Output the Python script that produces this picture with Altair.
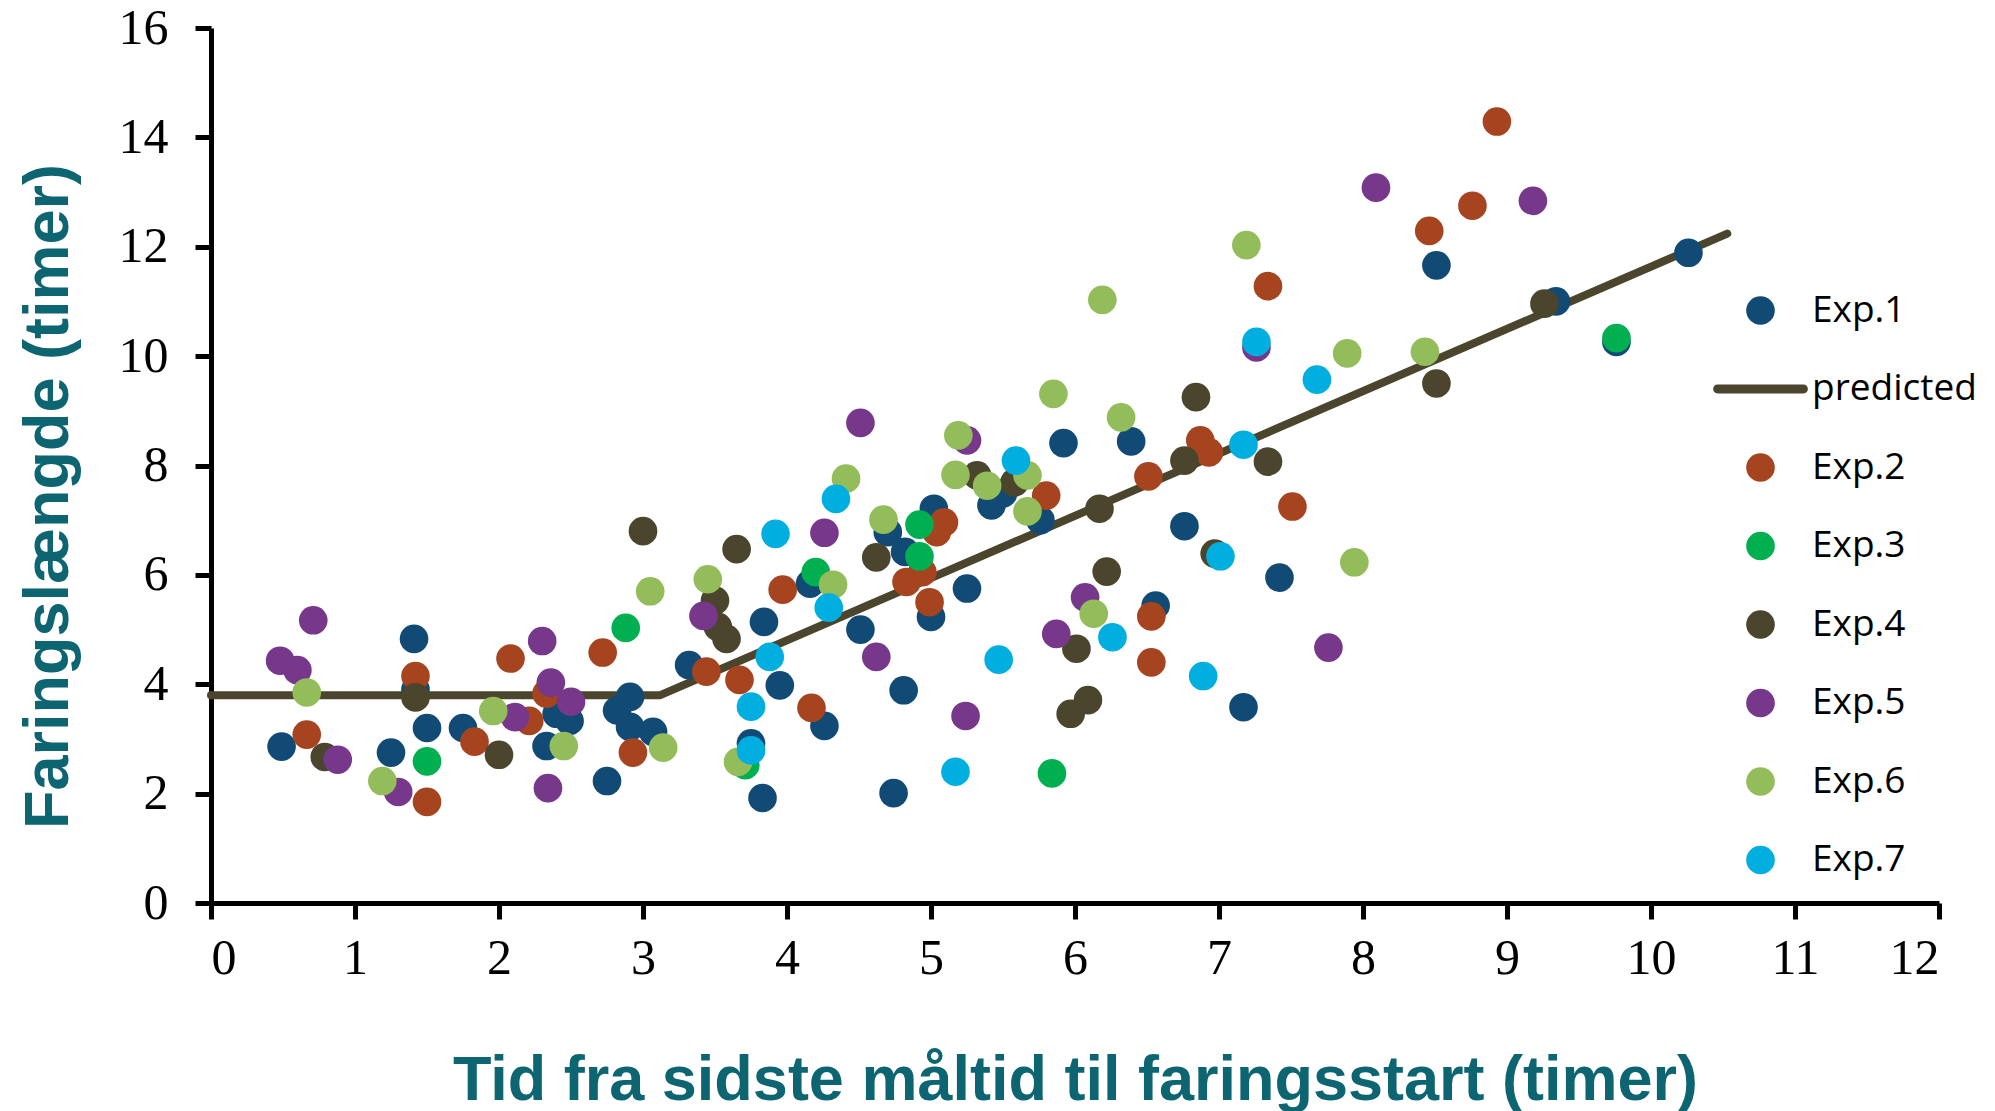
import altair as alt
import pandas as pd

# ---- data ----
exp1_x = [0.49, 1.25, 1.41, 1.42, 1.50, 1.75, 2.33, 2.40, 2.49, 2.75, 2.82, 2.91, 2.91, 3.07, 3.32,
          3.75, 3.83, 3.84, 3.95, 4.16, 4.26, 4.51, 4.70, 4.74, 4.81, 4.82, 5.00, 5.02, 5.25, 5.42,
          5.50, 5.76, 5.92, 6.39, 6.56, 6.76, 7.17, 7.42, 8.51, 9.34, 9.76, 10.26]
exp1_y = [2.86, 2.75, 4.83, 3.90, 3.20, 3.20, 2.87, 3.46, 3.33, 2.23, 3.52, 3.77, 3.22, 3.13, 4.35,
          2.92, 1.92, 5.14, 3.98, 5.84, 3.24, 5.00, 6.78, 2.01, 3.89, 6.42, 5.23, 7.21, 5.75, 7.27,
          7.49, 7.00, 8.41, 8.44, 5.44, 6.89, 3.58, 5.95, 11.66, 11.00, 10.26, 11.89]

exp2_x = [0.665, 1.42, 1.50, 1.83, 2.08, 2.21, 2.33, 2.72, 2.93, 3.44, 3.67, 3.97, 4.17, 4.83, 4.94,
          4.99, 5.04, 5.09, 5.80, 6.51, 6.53, 6.53, 6.87, 6.93, 7.34, 7.51, 8.46, 8.76, 8.93]
exp2_y = [3.08, 4.15, 1.85, 2.95, 4.47, 3.33, 3.83, 4.58, 2.75, 4.23, 4.08, 5.73, 3.57, 5.87, 6.05,
          5.50, 6.78, 6.96, 7.45, 7.80, 5.24, 4.40, 8.46, 8.24, 11.28, 7.25, 12.29, 12.75, 14.29]

exp3_x = [1.50, 2.88, 3.71, 4.20, 4.92, 4.92, 5.84, 9.76]
exp3_y = [2.59, 5.03, 2.52, 6.05, 6.92, 6.34, 2.37, 10.33]

exp4_x = [0.79, 1.42, 2.00, 3.00, 3.50, 3.52, 3.58, 3.65, 4.62, 5.32, 5.58, 5.97, 6.01, 6.09,
          6.17, 6.22, 6.76, 6.84, 6.97, 7.34, 8.51, 9.26]
exp4_y = [2.67, 3.76, 2.71, 6.80, 5.53, 5.05, 4.83, 6.47, 6.32, 7.82, 7.69, 3.46, 4.65, 3.71,
          7.21, 6.06, 8.09, 9.25, 6.39, 8.07, 9.50, 10.96]

exp5_x = [0.48, 0.60, 0.71, 0.88, 1.30, 2.11, 2.30, 2.36, 2.50, 2.34, 3.42, 4.26, 4.51, 4.62,
          5.25, 5.24, 5.87, 6.07, 7.26, 7.76, 8.09, 9.18]
exp5_y = [4.43, 4.26, 5.17, 2.62, 2.03, 3.40, 4.79, 4.03, 3.68, 2.10, 5.25, 6.77, 8.78, 4.50,
          8.46, 3.42, 4.92, 5.59, 10.16, 4.67, 13.08, 12.84]

exp6_x = [0.665, 1.19, 1.96, 2.45, 3.05, 3.14, 3.45, 3.66, 4.32, 4.41, 4.67, 5.17, 5.19, 5.39,
          5.67, 5.67, 5.85, 6.13, 6.19, 6.32, 7.19, 7.89, 7.94, 8.43]
exp6_y = [3.85, 2.23, 3.51, 2.87, 5.70, 2.84, 5.92, 2.58, 5.82, 7.76, 7.01, 7.83, 8.55, 7.63,
          7.82, 7.16, 9.31, 5.29, 11.03, 8.88, 12.03, 10.05, 6.23, 10.08]

exp7_x = [3.75, 3.75, 3.88, 3.92, 4.29, 4.34, 5.17, 5.47, 5.59, 6.26, 6.89, 7.01, 7.17, 7.26, 7.68]
exp7_y = [3.59, 2.79, 4.50, 6.75, 5.40, 7.39, 2.40, 4.45, 8.09, 4.86, 4.15, 6.34, 8.38, 10.26, 9.57]

pred_x = [0.0, 3.12, 10.53]
pred_y = [3.80, 3.80, 12.24]

series = ["Exp.1", "predicted", "Exp.2", "Exp.3", "Exp.4", "Exp.5", "Exp.6", "Exp.7"]
colors = ["#114B75", "#4B452E", "#A5441F", "#00B050", "#4B452E", "#77378B", "#93BC5A", "#00AFE0"]
LINE_SYMBOL = ("M-3.0,-0.31L3.0,-0.31A0.31,0.31 0 0 1 3.0,0.31"
               "L-3.0,0.31A0.31,0.31 0 0 1 -3.0,-0.31Z")
shapes = ["circle", LINE_SYMBOL, "circle", "circle", "circle", "circle", "circle", "circle"]

groups = [("Exp.1", exp1_x, exp1_y), ("Exp.2", exp2_x, exp2_y), ("Exp.3", exp3_x, exp3_y),
          ("Exp.4", exp4_x, exp4_y), ("Exp.5", exp5_x, exp5_y), ("Exp.6", exp6_x, exp6_y),
          ("Exp.7", exp7_x, exp7_y)]
rows = []
for name, xs, ys in groups:
    for xv, yv in zip(xs, ys):
        rows.append({"exp": name, "x": xv, "y": yv})
points = pd.DataFrame(rows)
line_df = pd.DataFrame({"x": pred_x, "y": pred_y})

TEAL = "#0C6571"

x_enc = alt.X(
    "x:Q",
    scale=alt.Scale(domain=[0, 12], nice=False, zero=False),
    axis=alt.Axis(
        values=list(range(13)), format="d",
        title="Tid fra sidste måltid til faringsstart (timer)",
        titleBaseline="alphabetic", titleY=196, titleX=864, titleAlign="center",
        labelPadding=14,
    ),
)
y_enc = alt.Y(
    "y:Q",
    scale=alt.Scale(domain=[0, 16], nice=False, zero=False),
    axis=alt.Axis(
        values=list(range(0, 17, 2)), format="d",
        title="Faringslængde (timer)",
        titleAngle=270, titleAlign="center", titleBaseline="alphabetic",
        titleX=-144, titleY=468,
        labelPadding=27,
    ),
)

legend = alt.Legend(
    title=None, orient="none", legendX=1531, legendY=264,
    labelFont="Open Sans", labelFontSize=37, labelColor="black", labelLimit=0,
    symbolSize=820, rowPadding=40.5, labelOffset=33, padding=0,
    symbolStrokeWidth=0, symbolOpacity=1,
)

line_layer = alt.Chart(line_df).mark_line(
    color="#4B452E", strokeWidth=8, strokeCap="round", strokeJoin="round"
).encode(x=x_enc, y=y_enc)

point_layer = alt.Chart(points).mark_point(
    filled=True, opacity=1, size=820, strokeWidth=0
).encode(
    x=x_enc,
    y=y_enc,
    color=alt.Color("exp:N", scale=alt.Scale(domain=series, range=colors), legend=legend),
    shape=alt.Shape("exp:N", scale=alt.Scale(domain=series, range=shapes), legend=legend),
)

chart = alt.layer(line_layer, point_layer).properties(
    width=1728, height=875,
    autosize=alt.AutoSizeParams(type="none"),
    padding={"left": 203, "top": 20, "right": 48, "bottom": 208},
).configure_view(stroke=None).configure_axis(
    grid=False,
    domainColor="black", domainWidth=5,
    tickColor="black", tickWidth=5, tickSize=16,
    labelFont="Liberation Serif", labelFontSize=50, labelColor="black",
    titleFont="Liberation Sans", titleFontSize=63, titleFontWeight="bold", titleColor=TEAL,
)

chart.save("out.html", embed_options={"renderer": "svg", "actions": False})
